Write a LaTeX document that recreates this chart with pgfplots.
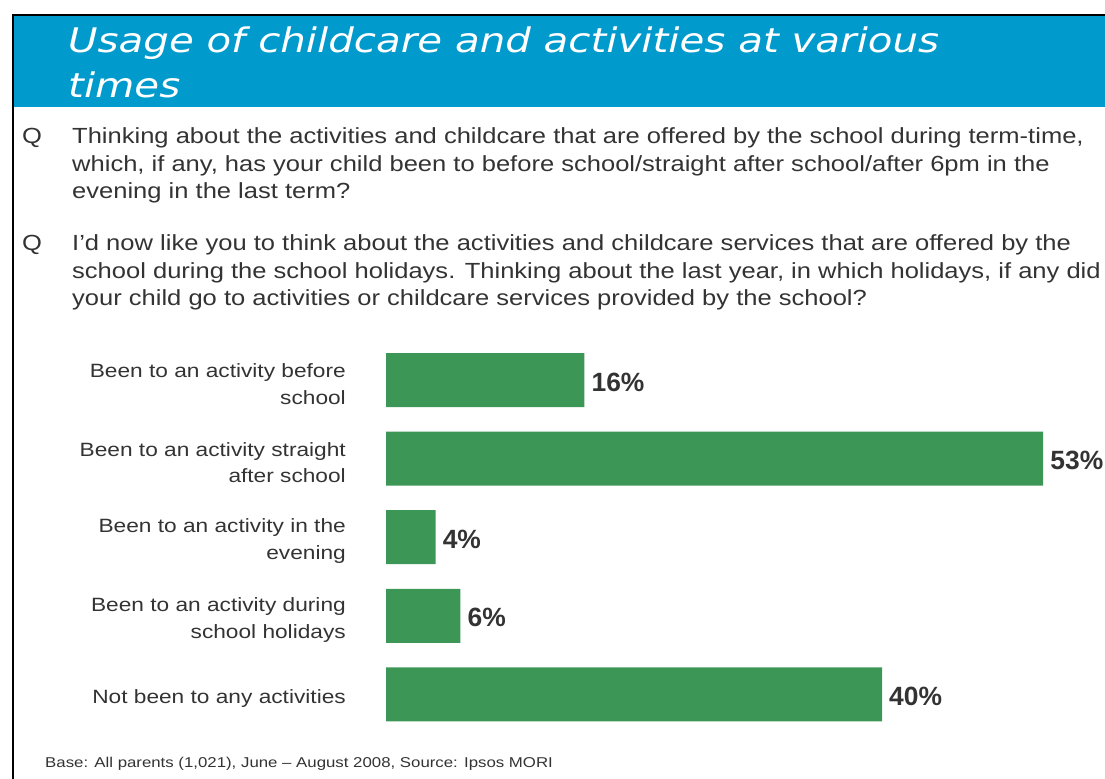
\documentclass[border=0pt]{standalone}
\usepackage{pgfplots}
\pgfplotsset{compat=1.18}
\usepackage{fontspec}
\setmainfont{Liberation Sans}[FakeStretch=1.18]
\newfontfamily\qfont{Liberation Sans}[FakeStretch=1.165]
\newfontfamily\pctfont{Liberation Sans}
\newfontfamily\titlefont{DejaVu Sans}[FakeStretch=1.19]
\definecolor{bargreen}{HTML}{3C9656}
\definecolor{titleblue}{HTML}{009ACD}
\definecolor{txt}{HTML}{333333}

\begin{document}
\begin{tikzpicture}
\path[use as bounding box] (0,0) rectangle (1105bp,-779bp);
% title band and frame
\fill[titleblue] (13bp,-16bp) rectangle (1105bp,-107bp);
\draw[black, line width=2bp] (13bp,-779bp) -- (13bp,-15bp) -- (1105bp,-15bp);
\begin{scope}[every node/.style={anchor=base west, inner sep=0pt, text=white,
    font=\titlefont\itshape\fontsize{34}{44}\selectfont}]
\node at (68bp,-52bp) {Usage of childcare and activities at various};
\node at (68bp,-97bp) {times};
\end{scope}
% questions
\begin{scope}[every node/.style={anchor=base west, inner sep=0pt, text=txt,
    font=\qfont\fontsize{22}{27}\selectfont}]
\node at (22bp,-143bp) {Q};
\node at (72bp,-143bp) {Thinking about the activities and childcare that are offered by the school during term-time,};
\node at (72bp,-171bp) {which, if any, has your child been to before school/straight after school/after 6pm in the};
\node at (72bp,-198bp) {evening in the last term?};
\node at (22bp,-250bp) {Q};
\node at (72bp,-250bp) {I’d now like you to think about the activities and childcare services that are offered by the};
\node at (72bp,-278bp) {school during the school holidays. Thinking about the last year, in which holidays, if any did};
\node at (72bp,-305bp) {your child go to activities or childcare services provided by the school?};
\node[font=\fontsize{14.3}{17}\selectfont] at (45bp,-767bp) {Base: All parents (1,021), June – August 2008, Source: Ipsos MORI};
\end{scope}

\begin{axis}[
    at={(386bp,-733.7bp)}, anchor=south west,
    scale only axis,
    width=706.8bp, height=393bp,
    xbar, bar width=54bp,
    xmin=0, xmax=57,
    ymin=-0.5, ymax=4.5,
    y dir=reverse,
    clip=false,
    axis line style={draw=none},
    major tick length=0pt,
    xtick=\empty,
    ytick={0,1,2,3,4},
    yticklabels={{Been to an activity before\\school},
                 {Been to an activity straight\\after school},
                 {Been to an activity in the\\evening},
                 {Been to an activity during\\school holidays},
                 {Not been to any activities}},
    yticklabel style={align=right, anchor=east, inner sep=0pt, xshift=-40bp, yshift=-4bp,
        text=txt, font=\fontsize{19.3}{27}\selectfont},
    /pgf/number format/assume math mode=true,
    nodes near coords={\pgfmathprintnumber{\pgfplotspointmeta}\%},
    nodes near coords style={anchor=west, inner sep=0pt, xshift=7bp, yshift=-2bp,
        text=txt, font=\pctfont\bfseries\fontsize{26.5}{30}\selectfont},
]
\addplot[fill=bargreen, draw=none] coordinates {
    (16,0) (53,1) (4,2) (6,3) (40,4)
};
\end{axis}
\end{tikzpicture}
\end{document}
